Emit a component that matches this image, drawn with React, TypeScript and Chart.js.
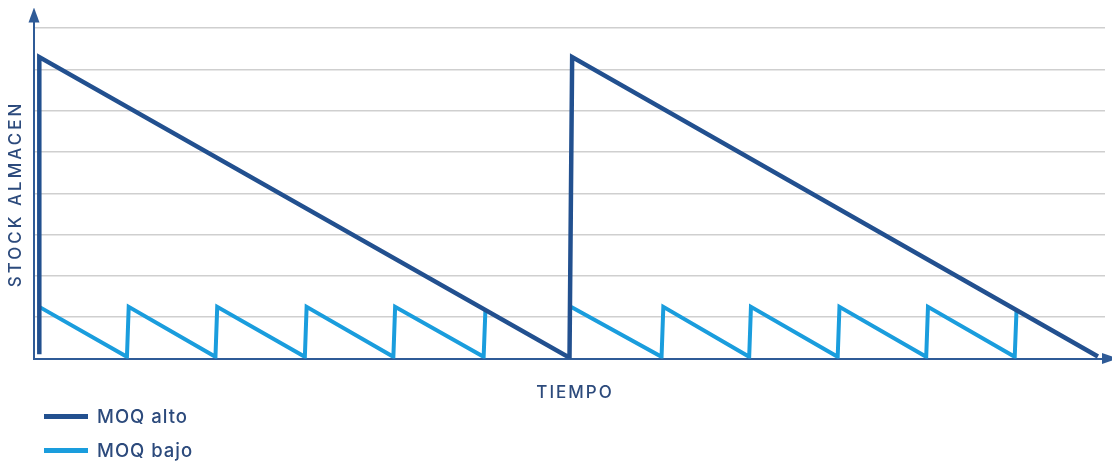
import { useEffect, useRef } from "react";
import { Chart, registerables } from "chart.js";

Chart.register(...registerables);

// time (x) and stock level (y)
const altoT = [0.06, 0.06, 6.05, 6.08, 12.02];
const altoV = [0.1, 7.3, 0.02, 7.3, 0.05];

const bajoT = [
  0.06, 1.05, 1.07, 2.05, 2.07, 3.06, 3.08, 4.06, 4.08, 5.08, 5.1, 5.6,
  6.07, 7.09, 7.11, 8.08, 8.1, 9.08, 9.1, 10.08, 10.1, 11.08, 11.1,
];
const bajoV = [
  1.25, 0.04, 1.25, 0.04, 1.25, 0.04, 1.25, 0.04, 1.25, 0.04, 1.17, null,
  1.25, 0.04, 1.25, 0.04, 1.25, 0.04, 1.25, 0.04, 1.25, 0.04, 1.15,
];

const seriesNames = ["MOQ alto", "MOQ bajo"];
const xTitle = "TIEMPO";
const yTitle = "STOCK ALMACÉN";

const DARK = "#22508f";
const LIGHT = "#1a9ddd";
const AXIS = "#2f5b97";
const TEXT = "#2c4a7c";
const FONT = "Inter, Lato, sans-serif";

const toPoints = (t, v) => t.map((x, i) => ({ x, y: v[i] }));

const axesDecor = {
  id: "axesDecor",
  afterDraw(chart) {
    const { ctx, chartArea } = chart;
    const x0 = chart.scales.x.left;
    const y0 = chart.scales.y.bottom;
    ctx.save();
    ctx.fillStyle = AXIS;
    // arrow on the y axis
    ctx.beginPath();
    ctx.moveTo(x0, chartArea.top - 4);
    ctx.lineTo(x0 - 5.5, chartArea.top + 11);
    ctx.lineTo(x0 + 5.5, chartArea.top + 11);
    ctx.closePath();
    ctx.fill();
    // arrow on the x axis
    ctx.beginPath();
    ctx.moveTo(chartArea.right + 13, y0);
    ctx.lineTo(chartArea.right - 3, y0 - 5.5);
    ctx.lineTo(chartArea.right - 3, y0 + 5.5);
    ctx.closePath();
    ctx.fill();

    ctx.fillStyle = TEXT;
    ctx.font = "500 17px " + FONT;
    ctx.textAlign = "center";
    ctx.textBaseline = "alphabetic";
    ctx.letterSpacing = "2px";
    ctx.fillText(xTitle, 575, 398);
    ctx.translate(21, 194);
    ctx.rotate(-Math.PI / 2);
    ctx.letterSpacing = "3px";
    ctx.fillText(yTitle, 0, 0);
    ctx.restore();
  },
};

export default function App() {
  const canvasRef = useRef(null);

  useEffect(() => {
    const chart = new Chart(canvasRef.current, {
      type: "line",
      data: {
        datasets: [
          {
            label: seriesNames[0],
            data: toPoints(altoT, altoV),
            borderColor: DARK,
            borderWidth: 4.5,
            borderJoinStyle: "miter",
            pointRadius: 0,
            tension: 0,
          },
          {
            label: seriesNames[1],
            data: toPoints(bajoT, bajoV),
            borderColor: LIGHT,
            borderWidth: 4,
            borderJoinStyle: "miter",
            pointRadius: 0,
            tension: 0,
            spanGaps: false,
          },
        ],
      },
      options: {
        animation: false,
        responsive: true,
        maintainAspectRatio: false,
        layout: { padding: { left: 34, right: 15, top: 11.6, bottom: 113.5 } },
        plugins: { legend: { display: false }, tooltip: { enabled: false } },
        scales: {
          x: {
            type: "linear",
            min: 0,
            max: 12.1,
            ticks: { display: false },
            grid: { display: false, drawTicks: false },
            border: { color: AXIS, width: 2 },
          },
          y: {
            min: 0,
            max: 8.4,
            ticks: { display: false, stepSize: 1 },
            grid: {
              drawTicks: false,
              lineWidth: 1.5,
              color: (c) =>
                c.tick && c.tick.value > 0 && Number.isInteger(c.tick.value)
                  ? "#cfcfcf"
                  : "transparent",
            },
            border: { color: AXIS, width: 2 },
          },
        },
      },
      plugins: [axesDecor],
    });
    return () => chart.destroy();
  }, []);

  const legendItem = (name, color, top) => (
    <div
      key={name}
      style={{ position: "absolute", left: 44, top, display: "flex", alignItems: "center" }}
    >
      <span style={{ width: 44, height: 5, background: color, display: "inline-block" }} />
      <span
        style={{
          marginLeft: 9,
          fontFamily: FONT,
          fontWeight: 500,
          fontSize: 18.5,
          letterSpacing: "1px",
          color: TEXT,
          lineHeight: "20px",
        }}
      >
        {name}
      </span>
    </div>
  );

  return (
    <div style={{ position: "relative", width: 1120, height: 472, margin: -8, background: "#fff" }}>
      <div style={{ position: "absolute", left: 0, top: 0, width: 1120, height: 472 }}>
        <canvas ref={canvasRef} />
      </div>
      {legendItem(seriesNames[0], DARK, 406)}
      {legendItem(seriesNames[1], LIGHT, 440)}
    </div>
  );
}
